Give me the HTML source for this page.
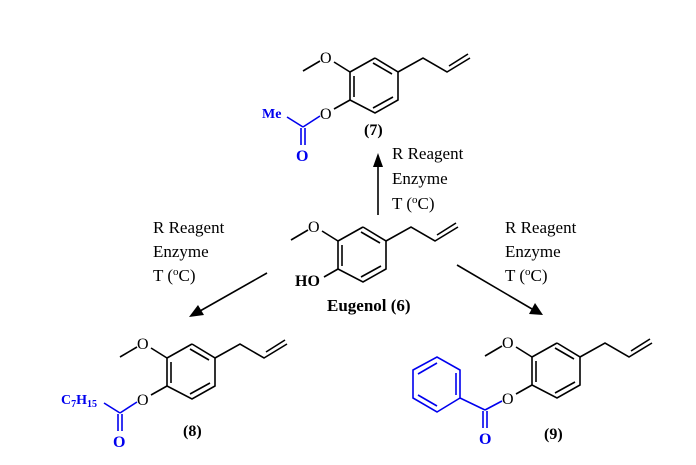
<!DOCTYPE html>
<html><head><meta charset="utf-8"><style>
html,body{margin:0;padding:0;background:#fff;}
svg{display:block;}
text{font-family:"Liberation Serif",serif;}
</style></head><body>
<svg width="696" height="465" viewBox="0 0 696 465" xmlns="http://www.w3.org/2000/svg">
<defs>
<g id="core" stroke="#000" stroke-width="1.6" fill="none">
  <polyline points="375,58 398,72 398,100 375,113 350,100 350,72 375,58"/>
  <line x1="354" y1="76" x2="354" y2="97"/>
  <line x1="373" y1="63" x2="392" y2="74"/>
  <line x1="373" y1="108" x2="393" y2="97"/>
  <line x1="350" y1="72" x2="334" y2="62"/>
  <line x1="320" y1="61" x2="303" y2="71"/>
  <polyline points="398,72 423,58 447,72 470,58"/>
  <line x1="449" y1="66" x2="468" y2="54"/>
</g>
</defs>
<g font-size="17" fill="#000">
<!-- (7) -->
<use href="#core"/>
<text x="320" y="63" font-size="16">O</text>
<line x1="350" y1="100" x2="334" y2="109" stroke="#000" stroke-width="1.6"/>
<text x="320" y="119" font-size="16">O</text>
<g stroke="#0000ee" stroke-width="1.6">
<line x1="320" y1="116" x2="303" y2="127"/>
<line x1="303" y1="127" x2="287" y2="117"/>
<line x1="301" y1="128" x2="301" y2="145"/>
<line x1="305" y1="128" x2="305" y2="145"/>
</g>
<text x="262" y="118" font-size="14" font-weight="bold" fill="#0000ee">Me</text>
<text x="296" y="161" font-size="16" font-weight="bold" fill="#0000ee">O</text>
<text x="364" y="135" font-size="16" font-weight="bold">(7)</text>

<!-- Eugenol -->
<g transform="translate(-12,169)"><use href="#core"/>
<text x="320" y="63" font-size="16">O</text>
<line x1="350" y1="100" x2="336" y2="108" stroke="#000" stroke-width="1.6"/>
</g>
<text x="295" y="286" font-size="16" font-weight="bold">HO</text>
<text x="327" y="311" font-size="17" font-weight="bold">Eugenol (6)</text>

<!-- (8) -->
<g transform="translate(-183,286)"><use href="#core"/>
<text x="320" y="63" font-size="16">O</text>
<line x1="350" y1="100" x2="334" y2="109" stroke="#000" stroke-width="1.6"/>
<text x="320" y="119" font-size="16">O</text>
<g stroke="#0000ee" stroke-width="1.6">
<line x1="320" y1="116" x2="303" y2="127"/>
<line x1="303" y1="127" x2="287" y2="117"/>
<line x1="301" y1="128" x2="301" y2="145"/>
<line x1="305" y1="128" x2="305" y2="145"/>
</g>
<text x="296" y="161" font-size="16" font-weight="bold" fill="#0000ee">O</text>
</g>
<text x="61" y="404" font-size="14" font-weight="bold" fill="#0000ee">C<tspan font-size="10" dy="3">7</tspan><tspan dy="-3">H</tspan><tspan font-size="10" dy="3">15</tspan></text>
<text x="183" y="436" font-size="16" font-weight="bold">(8)</text>

<!-- (9) -->
<g transform="translate(182,285)"><use href="#core"/>
<text x="320" y="63" font-size="16">O</text>
<line x1="350" y1="100" x2="334" y2="109" stroke="#000" stroke-width="1.6"/>
<text x="320" y="119" font-size="16">O</text>
</g>
<g stroke="#0000ee" stroke-width="1.6" fill="none">
<line x1="502" y1="401" x2="485" y2="410"/>
<polyline points="485,410 460,398 460,370 437,357 413,370 413,398 437,412 460,398"/>
<line x1="456" y1="373" x2="456" y2="395"/>
<line x1="418" y1="374" x2="437" y2="363"/>
<line x1="418" y1="395" x2="437" y2="406"/>
<line x1="483" y1="411" x2="483" y2="428"/>
<line x1="487" y1="411" x2="487" y2="428"/>
</g>
<text x="479" y="444" font-size="16" font-weight="bold" fill="#0000ee">O</text>
<text x="544" y="439" font-size="16" font-weight="bold">(9)</text>

<!-- arrows -->
<g stroke="#000" stroke-width="1.6">
<line x1="378" y1="215" x2="378" y2="165"/>
<line x1="267" y1="273" x2="200" y2="311"/>
<line x1="457" y1="265" x2="532" y2="309"/>
</g>
<polygon points="378,153 373,167 383,167" fill="#000"/>
<polygon points="189,317 198,305 204,315" fill="#000"/>
<polygon points="543,315 529,314 535,303" fill="#000"/>

<text x="392" y="159">R Reagent</text>
<text x="392" y="184">Enzyme</text>
<text x="392" y="209">T (<tspan font-size="11" dy="-6">o</tspan><tspan dy="6">C)</tspan></text>
<text x="153" y="233">R Reagent</text>
<text x="153" y="257">Enzyme</text>
<text x="153" y="281">T (<tspan font-size="11" dy="-6">o</tspan><tspan dy="6">C)</tspan></text>
<text x="505" y="233">R Reagent</text>
<text x="505" y="257">Enzyme</text>
<text x="505" y="281">T (<tspan font-size="11" dy="-6">o</tspan><tspan dy="6">C)</tspan></text>
</g>
</svg>
</body></html>
